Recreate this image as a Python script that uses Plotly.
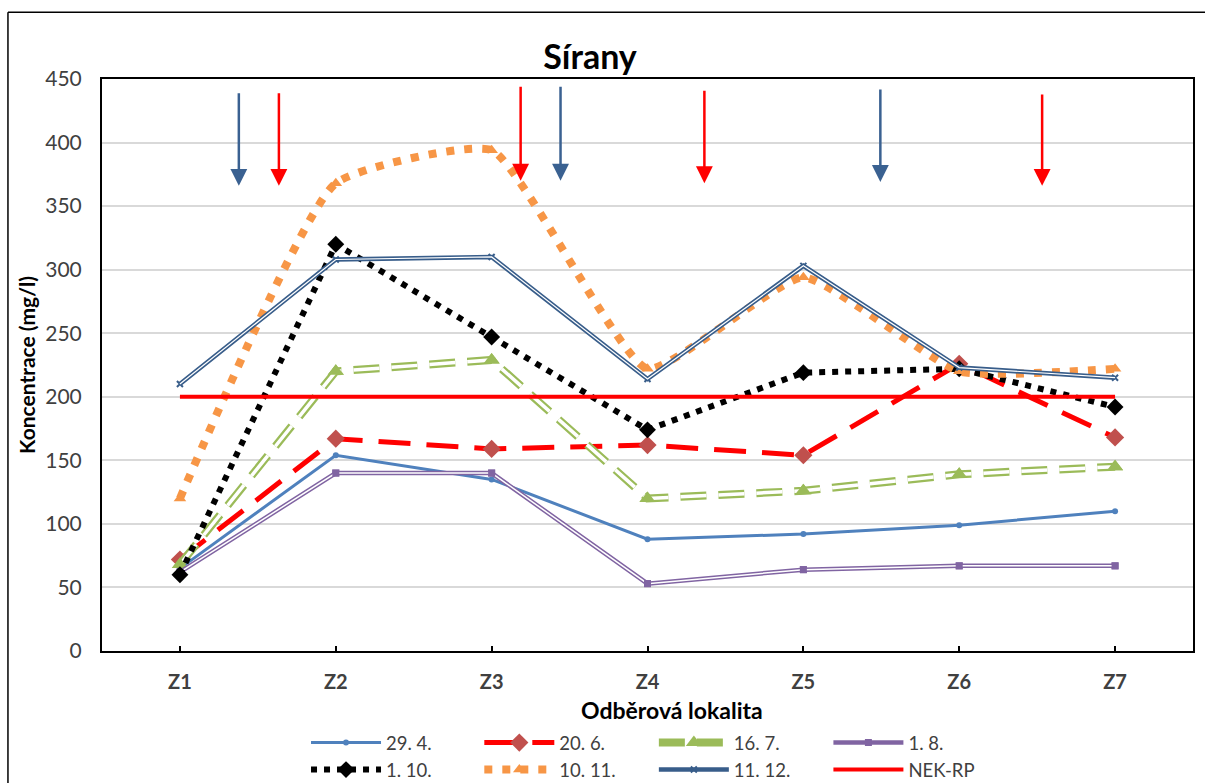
import plotly.graph_objects as go

categories = ["Z1", "Z2", "Z3", "Z4", "Z5", "Z6", "Z7"]
s_29_4 = [65, 154, 135, 88, 92, 99, 110]
s_20_6 = [72, 167, 159, 162, 154, 226, 168]
s_16_7 = [68, 220, 229, 120, 126, 139, 145]
s_1_8 = [62, 140, 140, 53, 64, 67, 67]
s_1_10 = [60, 320, 247, 174, 219, 222, 192]
s_10_11 = [120, 368, 394, 222, 294, 220, 222]
s_11_12 = [210, 308, 310, 214, 303, 223, 215]
nek_rp = [200, 200, 200, 200, 200, 200, 200]
y_ticks = [0, 50, 100, 150, 200, 250, 300, 350, 400, 450]

# arrow annotations (category-index position, top value, tip value, colour)
arrow_x = [0.378, 0.635, 2.186, 2.442, 3.365, 4.494, 5.532]
arrow_top = [440, 440, 445, 445, 442, 443, 439]
arrow_tip = [366, 366, 370, 370, 368, 369, 366]
arrow_col = ["#3A6191", "#FF0000", "#FF0000", "#3A6191", "#FF0000", "#3A6191", "#FF0000"]

FONT = "Lato"
W, H = 1205, 800


def pad(n):
    # trailing no-break spaces keep the legend columns evenly spaced like the original
    return "\u00a0" * n


fig = go.Figure()

# 29. 4.
fig.add_trace(go.Scatter(x=categories, y=s_29_4, name="29. 4." + pad(9), legendgroup="c1", mode="lines+markers",
                         line=dict(color="#4F81BD", width=3),
                         marker=dict(symbol="circle", size=6, color="#4F81BD")))
# 20. 6.
fig.add_trace(go.Scatter(x=categories, y=s_20_6, name="20. 6.", legendgroup="c2", mode="lines+markers",
                         line=dict(color="#FF0000", width=5, dash="32px,16px"),
                         marker=dict(symbol="diamond", size=14, color="#C0504D")))
# 16. 7. (double dashed)
fig.add_trace(go.Scatter(x=categories, y=s_16_7, name="16. 7.", legendgroup="c3", mode="lines+markers",
                         line=dict(color="#9BBB59", width=8, dash="26px,12px"),
                         marker=dict(symbol="triangle-up", size=14, color="#9BBB59")))
fig.add_trace(go.Scatter(x=categories, y=s_16_7, mode="lines", showlegend=False, hoverinfo="skip",
                         line=dict(color="white", width=3.5, dash="26px,12px")))
fig.add_trace(go.Scatter(x=categories, y=s_16_7, mode="markers", showlegend=False, hoverinfo="skip",
                         marker=dict(symbol="triangle-up", size=14, color="#9BBB59")))
# 1. 8. (double)
fig.add_trace(go.Scatter(x=categories, y=s_1_8, name="1. 8.", legendgroup="c4", mode="lines+markers",
                         line=dict(color="#8064A2", width=4.5),
                         marker=dict(symbol="square", size=7, color="#8064A2")))
fig.add_trace(go.Scatter(x=categories, y=s_1_8, mode="lines", showlegend=False, hoverinfo="skip",
                         line=dict(color="white", width=1.5)))
fig.add_trace(go.Scatter(x=categories, y=s_1_8, mode="markers", showlegend=False, hoverinfo="skip",
                         marker=dict(symbol="square", size=7, color="#8064A2")))
# 1. 10.
fig.add_trace(go.Scatter(x=categories, y=s_1_10, name="1. 10.", legendgroup="c1", mode="lines+markers",
                         line=dict(color="black", width=6, dash="6px,7px"),
                         marker=dict(symbol="diamond", size=13, color="black")))
# 10. 11.
fig.add_trace(go.Scatter(x=categories, y=s_10_11, name="10. 11." + pad(7), legendgroup="c2", mode="lines+markers",
                         line=dict(color="#F79646", width=8, dash="8px,10px", shape="spline", smoothing=0.45),
                         marker=dict(symbol="triangle-up", size=11, color="#F79646")))
# 11. 12. (double)
fig.add_trace(go.Scatter(x=categories, y=s_11_12, name="11. 12." + pad(7), legendgroup="c3", mode="lines+markers",
                         line=dict(color="#385D8A", width=4.5),
                         marker=dict(symbol="x-thin", size=6, color="#385D8A", line=dict(width=2, color="#385D8A"))))
fig.add_trace(go.Scatter(x=categories, y=s_11_12, mode="lines", showlegend=False, hoverinfo="skip",
                         line=dict(color="white", width=1.2)))
# NEK-RP
fig.add_trace(go.Scatter(x=categories, y=nek_rp, name="NEK-RP" + pad(5), legendgroup="c4", mode="lines",
                         line=dict(color="#FF0000", width=4)))

annotations = []
for xv, top, tip, col in zip(arrow_x, arrow_top, arrow_tip, arrow_col):
    annotations.append(dict(x=xv, y=tip, ax=xv, ay=top, xref="x", yref="y", axref="x", ayref="y",
                            text="", showarrow=True, arrowhead=2, arrowsize=1.35, arrowwidth=2.5,
                            arrowcolor=col, standoff=0))
# x-axis title (placed as in the original, slightly right of centre)
annotations.append(dict(text="<b>Odběrová lokalita</b>", xref="paper", yref="paper",
                        x=(672 - 102) / 1091, y=(652 - 711) / 573, xanchor="center", yanchor="middle",
                        showarrow=False, font=dict(family=FONT, size=23, color="black")))

shapes = [
    dict(type="line", xref="paper", yref="paper", x0=-0.0862, x1=-0.0862, y0=-0.5, y1=1.1169,
         line=dict(color="black", width=1.5)),
    dict(type="line", xref="paper", yref="paper", x0=-0.0862, x1=1.2, y0=1.1169, y1=1.1169,
         line=dict(color="black", width=1.5)),
]

fig.update_layout(
    width=W, height=H,
    margin=dict(l=102, r=12, t=79, b=H - 652),
    paper_bgcolor="white", plot_bgcolor="white",
    font=dict(family=FONT, color="#404040"),
    title=dict(text="<b>Sírany</b>", x=590 / W, xanchor="center", y=1 - 57 / H, yanchor="middle",
               font=dict(family=FONT, size=34, color="black")),
    xaxis=dict(type="category", range=[-0.5, 6.5], showline=True, linecolor="black", linewidth=2,
               mirror=True, ticks="inside", ticklen=5, tickcolor="black", tickwidth=1.5, showgrid=False,
               automargin=False, zeroline=False,
               tickfont=dict(family=FONT, size=20, color="#404040", weight="bold"),
               ticklabelstandoff=12),
    yaxis=dict(range=[0, 450], tickvals=y_ticks, showline=True, linecolor="black", linewidth=2,
               mirror=True, ticks="", showgrid=True, gridcolor="#D9D9D9", gridwidth=1.5,
               zeroline=False, automargin=False, tickfont=dict(family=FONT, size=21, color="#404040"),
               ticklabelstandoff=14,
               title=dict(text="<b>Koncentrace (mg/l)</b>", font=dict(family=FONT, size=21, color="black"),
                          standoff=4)),
    legend=dict(orientation="h", traceorder="grouped", x=0.187, xanchor="left", y=(652 - 724) / 573,
                yanchor="top", itemwidth=70, tracegroupgap=0,
                font=dict(family=FONT, size=18.5, color="#404040"), bgcolor="rgba(0,0,0,0)"),
    annotations=annotations,
    shapes=shapes,
    showlegend=True,
)

fig.write_html("out.html",
               post_script="document.documentElement.style.overflow='hidden';document.body.style.overflow='hidden';")
